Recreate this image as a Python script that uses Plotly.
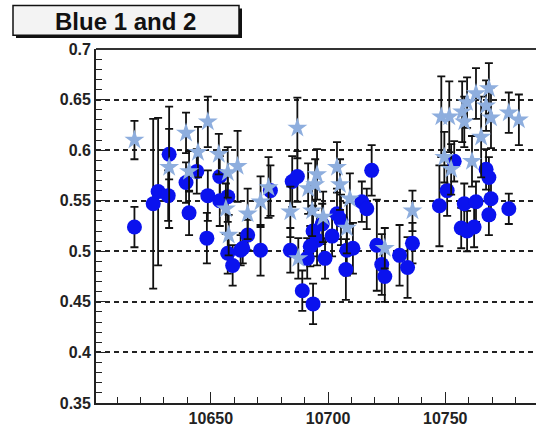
import plotly.graph_objects as go

# ---- data ----
blue1_x = [10617.4, 10625.4, 10627.5, 10631.8, 10632.2, 10639.4, 10640.7, 10644.0, 10648.3, 10648.7,
           10653.8, 10653.8, 10657.2, 10657.2, 10659.3, 10662.7, 10665.7, 10663.6, 10671.2, 10675.4,
           10683.9, 10684.7, 10686.9, 10689.0, 10693.6, 10691.1, 10693.6, 10695.3, 10692.4, 10697.5,
           10698.7, 10703.8, 10705.5, 10701.7, 10708.0, 10710.6, 10707.6, 10714.4, 10716.5, 10718.6,
           10720.8, 10722.9, 10724.2, 10730.5, 10733.9, 10736.0, 10747.5, 10750.8, 10753.8, 10756.8,
           10758.1, 10759.3, 10762.3, 10763.1, 10767.4, 10768.6, 10768.6, 10769.5, 10777.1]
blue1_y = [0.524, 0.547, 0.559, 0.555, 0.596, 0.568, 0.538, 0.579, 0.513, 0.555,
           0.550, 0.574, 0.554, 0.498, 0.486, 0.501, 0.516, 0.503, 0.501, 0.560,
           0.501, 0.569, 0.574, 0.461, 0.448, 0.493, 0.520, 0.511, 0.505, 0.527,
           0.493, 0.537, 0.531, 0.515, 0.501, 0.503, 0.482, 0.549, 0.542, 0.580,
           0.506, 0.487, 0.475, 0.496, 0.484, 0.508, 0.545, 0.560, 0.589, 0.523,
           0.547, 0.520, 0.524, 0.549, 0.581, 0.573, 0.536, 0.552, 0.542]
blue1_err = [0.020, 0.084, 0.073, 0.025, 0.025, 0.020, 0.022, 0.022, 0.025, 0.025,
             0.025, 0.020, 0.025, 0.020, 0.020, 0.015, 0.015, 0.015, 0.025, 0.025,
             0.022, 0.025, 0.025, 0.020, 0.020, 0.020, 0.025, 0.025, 0.020, 0.020,
             0.020, 0.025, 0.025, 0.020, 0.025, 0.025, 0.030, 0.020, 0.020, 0.025,
             0.045, 0.030, 0.025, 0.030, 0.030, 0.020, 0.040, 0.025, 0.020, 0.020,
             0.020, 0.020, 0.020, 0.020, 0.020, 0.020, 0.020, 0.020, 0.015]

blue2_x = [10617.4, 10639.4, 10648.7, 10632.2, 10644.5, 10653.4, 10640.7, 10657.2, 10661.4, 10657.6,
           10656.4, 10665.7, 10671.2, 10674.6, 10686.9, 10683.9, 10687.3, 10691.5, 10694.5, 10693.2,
           10695.3, 10697.9, 10703.8, 10705.1, 10708.0, 10709.3, 10724.2, 10736.0, 10748.3, 10751.7,
           10749.6, 10752.5, 10757.2, 10758.1, 10759.3, 10761.4, 10763.1, 10765.3, 10767.4, 10768.6,
           10769.5, 10777.1, 10781.4]
blue2_y = [0.610, 0.617, 0.628, 0.583, 0.598, 0.596, 0.579, 0.578, 0.584, 0.516,
           0.542, 0.537, 0.549, 0.563, 0.622, 0.539, 0.493, 0.562, 0.566, 0.540,
           0.576, 0.534, 0.583, 0.566, 0.523, 0.552, 0.503, 0.540, 0.633, 0.633,
           0.593, 0.581, 0.638, 0.628, 0.647, 0.589, 0.656, 0.613, 0.644, 0.661,
           0.632, 0.637, 0.630]
blue2_err = [0.019, 0.020, 0.025, 0.060, 0.025, 0.020, 0.020, 0.025, 0.035, 0.020,
             0.025, 0.025, 0.025, 0.030, 0.030, 0.025, 0.020, 0.025, 0.025, 0.025,
             0.025, 0.025, 0.025, 0.025, 0.025, 0.025, 0.020, 0.020, 0.040, 0.035,
             0.025, 0.025, 0.030, 0.025, 0.025, 0.025, 0.025, 0.040, 0.025, 0.025,
             0.030, 0.020, 0.025]

y_tickvals = [0.35, 0.4, 0.45, 0.5, 0.55, 0.6, 0.65, 0.7]
y_ticktext = ["0.35", "0.4", "0.45", "0.5", "0.55", "0.6", "0.65", "0.7"]
x_tickvals = [10650, 10700, 10750]
x_ticktext = ["10650", "10700", "10750"]
title_text = "Blue 1 and 2"

# ---- figure ----
W, H = 536, 427
L, R, T, B = 96, 0, 49, 20
pw, ph = W - L - R, H - T - B

def px_x(p):
    return (p - L) / pw

def px_y(p):
    return (H - B - p) / ph

fig = go.Figure()
fig.add_trace(go.Scatter(
    x=blue1_x, y=blue1_y, mode="markers", name="Blue 1",
    error_y=dict(type="data", array=blue1_err, color="#111111", thickness=1.8, width=4),
    marker=dict(symbol="circle", size=15, color="#0a12ee", line=dict(width=0)),
))
fig.add_trace(go.Scatter(
    x=blue2_x, y=blue2_y, mode="markers", name="Blue 2",
    error_y=dict(type="data", array=blue2_err, color="#111111", thickness=1.8, width=4),
    marker=dict(symbol="star", size=15, color="#8eaede", line=dict(width=0)),
))

tickfont = dict(family="Liberation Sans, Arial, sans-serif", size=16, color="#222222", weight="bold")

fig.update_layout(
    width=W, height=H,
    margin=dict(l=L, r=R, t=T, b=B, pad=0),
    paper_bgcolor="white", plot_bgcolor="white",
    showlegend=False,
    xaxis=dict(
        range=[10601, 10788.7], showgrid=False, zeroline=False,
        showline=True, linecolor="#222222", linewidth=1.8,
        tickmode="array", tickvals=x_tickvals, ticktext=x_ticktext,
        ticks="inside", ticklen=11, tickwidth=1.4, tickcolor="#222222",
        minor=dict(dtick=10, tick0=10600, ticks="inside", ticklen=6, tickwidth=1.4, tickcolor="#222222"),
        tickfont=tickfont,
    ),
    yaxis=dict(
        range=[0.35, 0.7], zeroline=False,
        showgrid=True, gridcolor="#222222", gridwidth=1.7, griddash="5px,4px",
        showline=True, linecolor="#222222", linewidth=1.8,
        tickmode="array", tickvals=y_tickvals, ticktext=y_ticktext,
        ticks="inside", ticklen=11, tickwidth=1.4, tickcolor="#222222",
        minor=dict(dtick=0.01, tick0=0.35, ticks="inside", ticklen=6, tickwidth=1.4, tickcolor="#222222", showgrid=False),
        tickfont=tickfont,
    ),
    shapes=[
        dict(type="line", xref="paper", yref="paper", x0=0, x1=1, y0=1, y1=1,
             line=dict(color="#333333", width=2)),
        dict(type="rect", xref="paper", yref="paper",
             x0=px_x(16), x1=px_x(242), y0=px_y(38), y1=px_y(8),
             fillcolor="#111111", line=dict(width=0)),
        dict(type="rect", xref="paper", yref="paper",
             x0=px_x(13), x1=px_x(239), y0=px_y(35), y1=px_y(5),
             fillcolor="#f3f3f3", line=dict(color="#111111", width=1.5)),
    ],
    annotations=[
        dict(text=title_text, xref="paper", yref="paper", x=px_x(125), y=px_y(21),
             xanchor="center", yanchor="middle", showarrow=False,
             font=dict(family="Liberation Sans, Arial, sans-serif", size=24, color="#111111", weight="bold")),
    ],
)

fig.write_html("out.html")
